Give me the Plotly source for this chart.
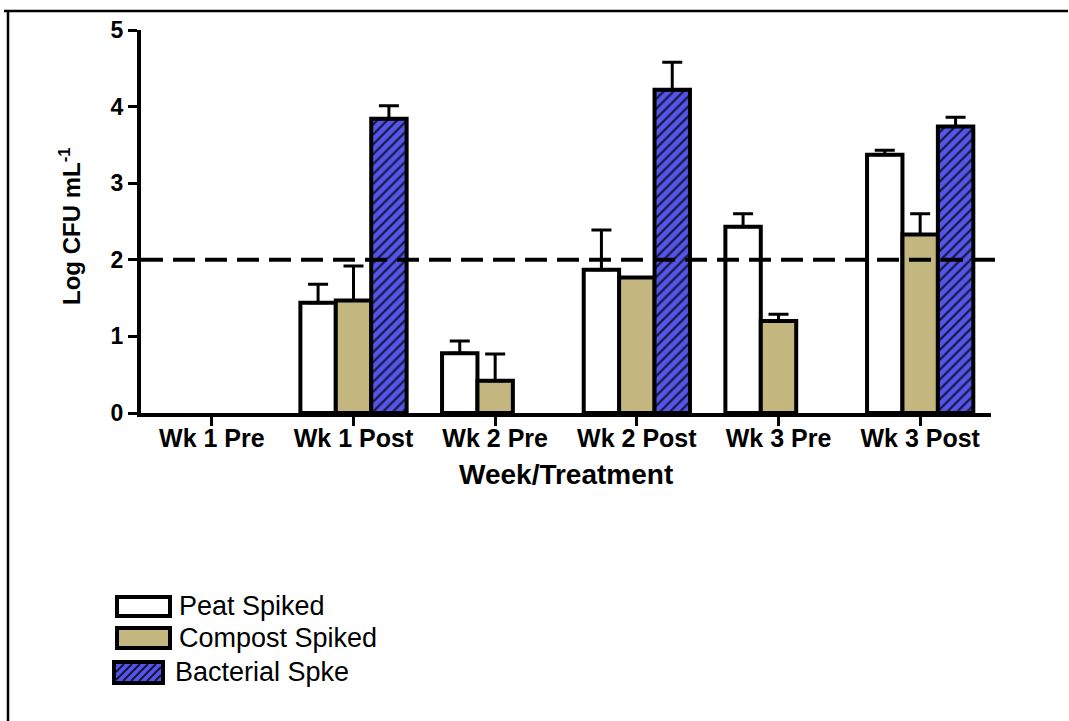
import plotly.graph_objects as go

categories = ["Wk 1 Pre", "Wk 1 Post", "Wk 2 Pre", "Wk 2 Post", "Wk 3 Pre", "Wk 3 Post"]
peat = [None, 1.44, 0.78, 1.87, 2.43, 3.37]
peat_err = [None, 0.24, 0.16, 0.52, 0.17, 0.06]
compost = [None, 1.47, 0.42, 1.77, 1.20, 2.33]
compost_err = [None, 0.45, 0.35, 0.0, 0.09, 0.27]
bacterial = [None, 3.84, None, 4.22, None, 3.74]
bacterial_err = [None, 0.17, None, 0.36, None, 0.12]
series_names = ["Peat Spiked", "Compost Spiked", "Bacterial Spke"]
threshold = 2
y_ticks = [0, 1, 2, 3, 4, 5]

W, H = 1069, 721
L, R, T, B = 141, 78, 30, 308
PW, PH = W - L - R, H - T - B

def px(x):
    return (x - L) / PW

def py(y):
    return (H - B - y) / PH

FONT = "Liberation Sans, Arial, Helvetica, sans-serif"
TAN = "#c3b77f"
BLUE = "#5555ea"

def err(arr):
    return dict(type="data", array=arr, arrayminus=[0 if v is not None else None for v in arr],
                symmetric=False, color="black", thickness=3, width=10)

fig = go.Figure()
fig.add_trace(go.Bar(x=categories, y=peat, name=series_names[0],
                     marker=dict(color="white", line=dict(color="black", width=4)),
                     error_y=err(peat_err)))
fig.add_trace(go.Bar(x=categories, y=compost, name=series_names[1],
                     marker=dict(color=TAN, line=dict(color="black", width=4)),
                     error_y=err(compost_err)))
fig.add_trace(go.Bar(x=categories, y=bacterial, name=series_names[2],
                     marker=dict(color=BLUE, line=dict(color="black", width=4),
                                 pattern=dict(shape="/", fgcolor="#15153a", bgcolor=BLUE,
                                              size=7, solidity=0.3, fillmode="replace")),
                     error_y=err(bacterial_err)))

shapes = []
# threshold dashed line
shapes.append(dict(type="line", xref="paper", yref="y", x0=0, x1=px(1001), y0=threshold, y1=threshold,
                   line=dict(color="black", width=4, dash="22px,10px"), layer="above"))
# outer frame (top and left edges)
shapes.append(dict(type="line", xref="paper", yref="paper", x0=px(4), x1=px(1068), y0=py(11), y1=py(11),
                   line=dict(color="black", width=2.5)))
shapes.append(dict(type="line", xref="paper", yref="paper", x0=px(8), x1=px(8), y0=py(11), y1=py(721),
                   line=dict(color="black", width=2.5)))

# custom legend
boxes = [(117, 170, 597, 616, "white"), (117, 170, 628, 648, TAN), (114, 163, 662, 683, BLUE)]
text_pos = [(177, 606), (177, 638), (173, 672)]
for (x0, x1, y0, y1, col) in boxes:
    shapes.append(dict(type="rect", xref="paper", yref="paper", x0=px(x0), x1=px(x1), y0=py(y1), y1=py(y0),
                       fillcolor=col, line=dict(color="black", width=4), layer="above"))
# hatch inside bacterial legend box
bx0, bx1, by0, by1 = 114 + 2, 163 - 2, 662 + 2, 683 - 2
h = by1 - by0
t = -h
while t < (bx1 - bx0):
    xs, ys = bx0 + t, by1
    xe, ye = bx0 + t + h, by0
    if xs < bx0:
        ys = by1 - (bx0 - xs)
        xs = bx0
    if xe > bx1:
        ye = by0 + (xe - bx1)
        xe = bx1
    if xe > xs:
        shapes.append(dict(type="line", xref="paper", yref="paper", x0=px(xs), x1=px(xe), y0=py(ys), y1=py(ye),
                           line=dict(color="#15153a", width=2), layer="above"))
    t += 8

annotations = []
for name, (tx, ty) in zip(series_names, text_pos):
    annotations.append(dict(text=name, xref="paper", yref="paper", x=px(tx), y=py(ty), xanchor="left",
                            yanchor="middle", showarrow=False, font=dict(family=FONT, size=27, color="black")))
annotations.append(dict(text="<b>Week/Treatment</b>", xref="paper", yref="paper", x=px(566), y=py(475),
                        xanchor="center", yanchor="middle", showarrow=False,
                        font=dict(family=FONT, size=28, color="black")))
annotations.append(dict(text="<b>Log CFU mL<sup>-1</sup></b>", xref="paper", yref="paper", x=px(70), y=py(226),
                        xanchor="center", yanchor="middle", showarrow=False, textangle=-90,
                        font=dict(family=FONT, size=24, color="black")))

fig.update_layout(
    width=W, height=H, autosize=False,
    margin=dict(l=L, r=R, t=T, b=B, pad=0),
    paper_bgcolor="white", plot_bgcolor="white",
    barmode="group", bargap=0.25, bargroupgap=0,
    showlegend=False,
    shapes=shapes, annotations=annotations,
    font=dict(family=FONT, color="black"),
)
fig.update_xaxes(type="category", range=[-0.5, 5.5], showline=True, linewidth=4, linecolor="black",
                 ticks="outside", ticklen=9, tickwidth=3, tickcolor="black", showgrid=False,
                 ticklabelstandoff=-9,
                 tickfont=dict(family=FONT, size=25, color="black", weight="bold"))
fig.update_yaxes(range=[0, 5], tickvals=y_ticks, showline=True, linewidth=4, linecolor="black",
                 ticks="outside", ticklen=9, tickwidth=3, tickcolor="black", showgrid=False, zeroline=False,
                 tickfont=dict(family=FONT, size=23, color="black", weight="bold"))

fig.write_html("out.html", config={"displayModeBar": False},
               post_script=("document.documentElement.style.overflow='hidden';"
                            "document.body.style.overflow='hidden';"
                            "document.body.style.margin='0';"))
